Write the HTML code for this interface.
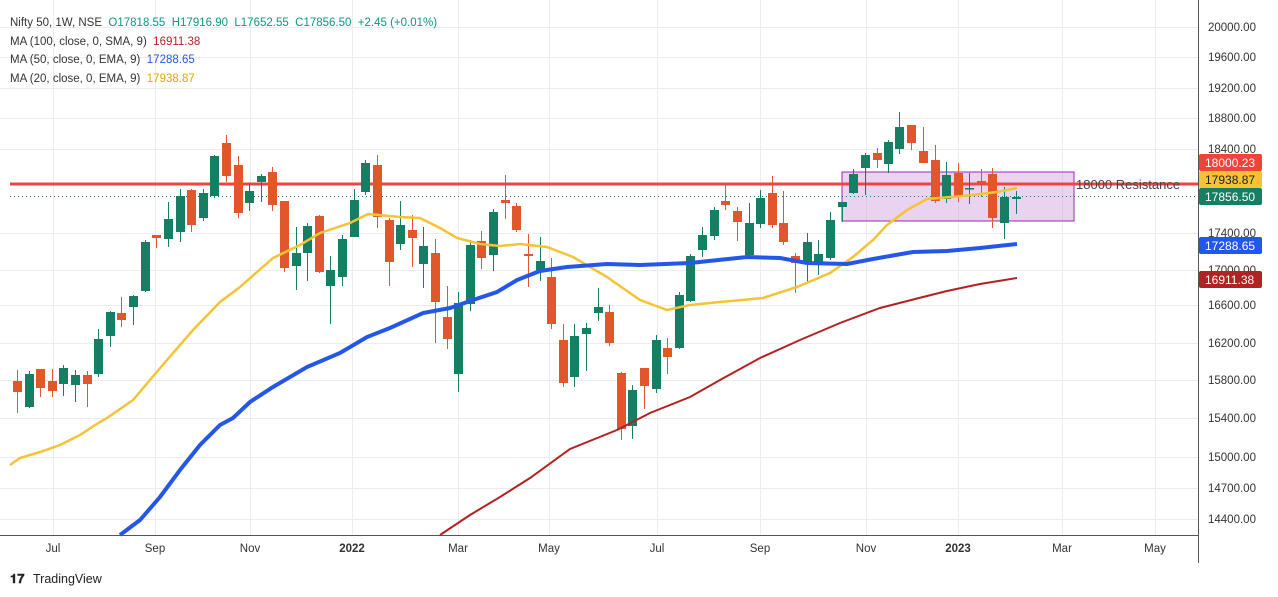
<!DOCTYPE html>
<html><head><meta charset="utf-8">
<style>
body{margin:0;background:#fff;width:1278px;height:597px;overflow:hidden;font-family:"Liberation Sans",sans-serif}
svg{position:absolute;left:0;top:0}
.lg{position:absolute;left:10px;font-size:11.5px;color:#333;white-space:pre}
</style></head><body>
<svg id="s" width="1278" height="597" xmlns="http://www.w3.org/2000/svg">
<g stroke="#ececec" stroke-width="1" id="grid"></g>
<line x1="1198.5" y1="0" x2="1198.5" y2="563" stroke="#555" stroke-width="1"/>
<line x1="0" y1="535.5" x2="1198" y2="535.5" stroke="#555" stroke-width="1"/>
<rect x="842" y="172" width="232" height="49" fill="rgba(205,150,220,0.42)" stroke="#9c27b0" stroke-width="1"/>
<line x1="10" y1="184" x2="1198" y2="184" stroke="#ee4444" stroke-width="3"/>
<line x1="10" y1="196.5" x2="1198" y2="196.5" stroke="#167f63" stroke-width="1" stroke-dasharray="1,3"/>
<g id="c"></g>
<polyline fill="none" stroke="#f6c236" stroke-width="2.5" points="10,465 20,458 40,452 60,445 80,435 95,425 107,418 133,400 167,360 193,330 220,302 240,287 273,258 300,245 320,233 350,223 368,214 400,217 420,218 440,228 457,238 480,244 500,246 520,244 547,247 573,257 607,277 640,300 667,310 690,305 720,302 763,298 797,287 830,273 853,257 873,240 887,225 907,210 927,199 963,196 997,192 1017,188"/>
<polyline fill="none" stroke="#2457e8" stroke-width="4" points="120,535 140,520 160,497 180,470 200,445 220,425 233,418 250,402 273,387 307,367 340,353 367,337 390,328 423,313 450,308 473,300 497,292 517,280 540,271 567,267 607,264 640,265 690,263 747,257 780,258 807,263 847,264 873,259 913,252 947,251 980,248 1017,244"/>
<polyline fill="none" stroke="#b22222" stroke-width="2" points="440,535 470,515 500,497 530,478 570,449 617,430 650,413 690,397 720,380 760,358 800,340 840,323 880,308 923,297 947,291 980,284 1017,278"/>
<text x="1076" y="189" font-size="13" fill="#444" font-family="Liberation Sans">18000 Resistance</text>
<g font-size="11.5" fill="#333" font-family="Liberation Sans" id="ax"></g>
<g font-size="12" fill="#fff" font-family="Liberation Sans">
<rect x="1199" y="154" width="63" height="17" fill="#f04438" rx="2"/><text x="1205" y="167">18000.23</text>
<rect x="1199" y="171" width="63" height="17" fill="#f6c236" rx="2"/><text x="1205" y="184" fill="#222">17938.87</text>
<rect x="1199" y="188" width="63" height="17" fill="#167f63" rx="2"/><text x="1205" y="201">17856.50</text>
<rect x="1199" y="237" width="63" height="17" fill="#2457e8" rx="2"/><text x="1205" y="250">17288.65</text>
<rect x="1199" y="271" width="63" height="17" fill="#b22222" rx="2"/><text x="1205" y="284">16911.38</text>
</g>
<text x="10" y="583" font-size="13" font-weight="bold" fill="#222" font-family="Liberation Sans">𝟏𝟕</text>
<text x="33" y="583" font-size="12.5" fill="#222" font-family="Liberation Sans">TradingView</text>
</svg>
<div class="lg" style="top:17px">Nifty 50, 1W, NSE  <span style="color:#089981">O17818.55  H17916.90  L17652.55  C17856.50  +2.45 (+0.01%)</span></div>
<div class="lg" style="top:36px">MA (100, close, 0, SMA, 9)  <span style="color:#b22222">16911.38</span></div>
<div class="lg" style="top:54px">MA (50, close, 0, EMA, 9)  <span style="color:#2457e8">17288.65</span></div>
<div class="lg" style="top:73px">MA (20, close, 0, EMA, 9)  <span style="color:#e0a800">17938.87</span></div>
<script>
var N="http://www.w3.org/2000/svg";
function el(p,t,a,txt){var e=document.createElementNS(N,t);for(var k in a)e.setAttribute(k,a[k]);if(txt)e.textContent=txt;p.appendChild(e);return e;}
var G=[[17,381,392,370,413,0],[29,374,407,371,408,1],[40,369,388,369,397,0],[52,381,391,369,397,0],[63,368,384,365,396,1],[75,375,385,370,402,1],[87,375,384,371,407,0],[98,339,374,329,377,1],[110,312,336,311,347,1],[121,313,320,297,327,0],[133,296,307,295,325,1],[145,242,291,240,292,1],[156,235,238,235,248,0],[168,219,239,202,247,1],[180,196,232,189,242,1],[191,190,225,189,232,0],[203,193,218,189,221,1],[214,156,196,155,198,1],[226,143,176,135,182,0],[238,165,213,156,218,0],[249,191,203,183,211,1],[261,176,182,174,202,1],[272,172,205,167,211,0],[284,201,268,201,272,0],[296,253,266,227,290,1],[307,226,253,223,281,1],[319,216,272,215,273,0],[330,270,286,256,324,1],[342,239,277,235,286,1],[354,200,237,189,237,1],[365,163,192,160,195,1],[377,165,217,155,228,0],[389,220,262,218,286,0],[400,225,244,201,250,1],[412,230,238,215,267,0],[423,246,264,227,288,1],[435,253,302,239,343,0],[447,317,339,286,349,0],[458,303,374,292,392,1],[470,245,304,240,311,1],[481,241,258,231,269,0],[493,212,255,209,271,1],[505,200,203,175,219,0],[516,206,230,203,232,0],[528,254,256,234,287,0],[540,261,270,237,281,1],[551,277,324,258,329,0],[563,340,383,324,387,0],[574,336,377,324,387,1],[586,328,334,323,371,1],[598,307,313,288,321,1],[609,312,343,305,346,0],[621,373,429,372,440,0],[632,390,426,385,439,1],[644,368,386,368,409,0],[656,340,389,335,393,1],[667,348,357,338,374,0],[679,295,348,292,349,1],[690,256,301,254,302,1],[702,235,250,227,257,1],[714,210,236,207,240,1],[725,201,205,183,210,0],[737,211,222,207,241,0],[749,223,255,203,257,1],[760,198,224,190,228,1],[772,193,225,176,228,0],[783,223,242,191,245,0],[795,256,263,253,293,0],[807,242,263,233,283,1],[818,254,263,240,275,1],[830,220,258,212,260,1],[842,202,207,202,222,1],[853,174,193,169,194,1],[865,155,168,153,195,1],[877,153,160,148,168,0],[888,142,164,140,173,1],[899,127,149,112,154,1],[911,125,143,125,150,0],[923,151,163,127,163,0],[935,160,201,145,203,0],[946,175,199,162,203,1],[958,173,197,163,202,0],[969,188,189,173,204,1],[981,181,183,169,197,0],[992,174,218,168,228,0],[1004,197,223,187,239,1],[1016,197,199,191,214,1]];
var c=document.getElementById("c");
G.forEach(function(d){var col=d[5]?"#167f63":"#e2562b";
el(c,"line",{x1:d[0]+.5,x2:d[0]+.5,y1:d[3],y2:d[4],stroke:col,"stroke-width":1});
el(c,"rect",{x:d[0]-4,y:d[1],width:9,height:Math.max(1.5,d[2]-d[1]),fill:col});});
var g=document.getElementById("grid"),ax=document.getElementById("ax");
[[27,"20000.00"],[57,"19600.00"],[88,"19200.00"],[118,"18800.00"],[149,"18400.00"],[233,"17400.00"],[270,"17000.00"],[305,"16600.00"],[343,"16200.00"],[380,"15800.00"],[418,"15400.00"],[457,"15000.00"],[488,"14700.00"],[519,"14400.00"]].forEach(function(t){
el(g,"line",{x1:0,x2:1198,y1:t[0]+.5,y2:t[0]+.5});el(ax,"text",{x:1208,y:t[0]+4},t[1]);});
[[53,"Jul"],[155,"Sep"],[250,"Nov"],[352,"2022"],[458,"Mar"],[549,"May"],[657,"Jul"],[760,"Sep"],[866,"Nov"],[958,"2023"],[1062,"Mar"],[1155,"May"]].forEach(function(t){
el(g,"line",{x1:t[0]+.5,x2:t[0]+.5,y1:0,y2:535});
var tx=el(ax,"text",{x:t[0],y:552,"text-anchor":"middle"},t[1]);if(t[1].length==4)tx.setAttribute("font-weight","bold");});
</script>
</body></html>
